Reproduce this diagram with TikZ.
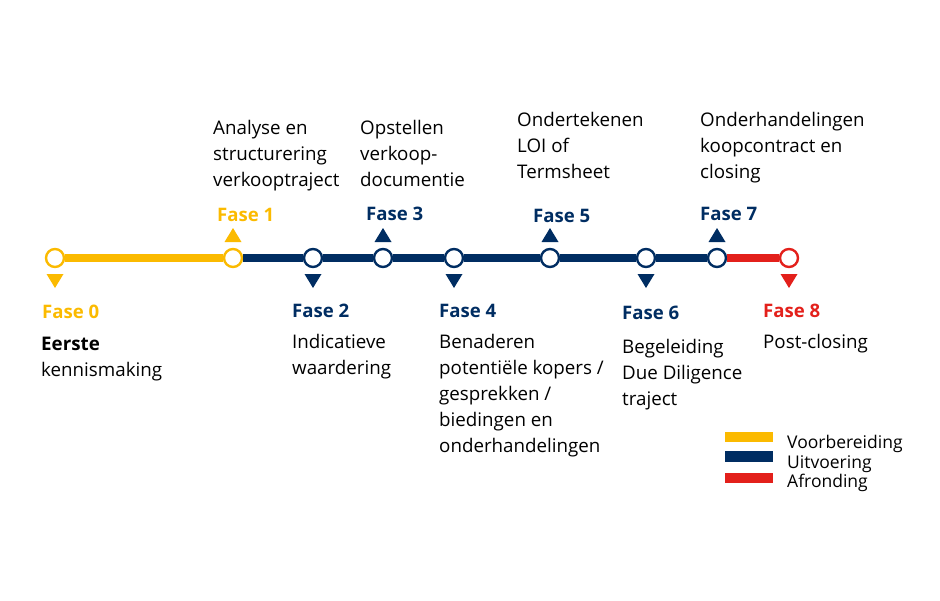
\documentclass[tikz,border=0pt]{standalone}
\usepackage{fontspec}
\setmainfont{Open Sans}
\usetikzlibrary{calc}
\definecolor{cyel}{HTML}{FBBA00}
\definecolor{cnavy}{HTML}{002D62}
\definecolor{cred}{HTML}{E3201B}
\begin{document}
\begin{tikzpicture}[x=1pt,y=-1pt,
  dot/.style={circle,draw=#1,line width=2.4pt,fill=white,minimum size=18pt,inner sep=0pt},
  seg/.style={draw=#1,line width=8pt},
  fase/.style={anchor=base west,inner sep=0pt,font=\fontsize{18.6}{26}\selectfont\bfseries,text=#1},
  desc/.style={anchor=base west,inner sep=0pt,align=left,font=\fontsize{18.75}{26}\selectfont,text=black},
  legtext/.style={anchor=base west,inner sep=0pt,font=\fontsize{17.5}{20}\selectfont,text=black},
  ]
\useasboundingbox (0,0) rectangle (940,600);

% timeline dots
\node[dot=cyel]  (c0) at (55,258) {};
\node[dot=cyel]  (c1) at (233,258) {};
\node[dot=cnavy] (c2) at (313,258) {};
\node[dot=cnavy] (c3) at (383,258) {};
\node[dot=cnavy] (c4) at (454,258) {};
\node[dot=cnavy] (c5) at (550,258) {};
\node[dot=cnavy] (c6) at (646,258) {};
\node[dot=cnavy] (c7) at (717,258) {};
\node[dot=cred]  (c8) at (789,258) {};

% segments
\draw[seg=cyel]  (c0) -- (c1);
\draw[seg=cnavy] (c1) -- (c2);
\draw[seg=cnavy] (c2) -- (c3);
\draw[seg=cnavy] (c3) -- (c4);
\draw[seg=cnavy] (c4) -- (c5);
\draw[seg=cnavy] (c5) -- (c6);
\draw[seg=cnavy] (c6) -- (c7);
\draw[seg=cred]  (c7) -- (c8);

% triangles down
\foreach \c/\col in {c0/cyel,c2/cnavy,c4/cnavy,c6/cnavy,c8/cred}{
  \fill[\col] ($(\c)+(-8.5,16)$) -- ($(\c)+(8.5,16)$) -- ($(\c)+(0,30)$) -- cycle;
}
% triangles up
\foreach \c/\col in {c1/cyel,c3/cnavy,c5/cnavy,c7/cnavy}{
  \fill[\col] ($(\c)+(-8.5,-16)$) -- ($(\c)+(8.5,-16)$) -- ($(\c)+(0,-30)$) -- cycle;
}

% phase labels
\node[fase=cyel]  (f0) at (42,318) {Fase 0};
\node[fase=cyel]  (f1) at (217,221) {Fase 1};
\node[fase=cnavy] (f2) at (292,317) {Fase 2};
\node[fase=cnavy] (f3) at (366,220) {Fase 3};
\node[fase=cnavy] (f4) at (439,317) {Fase 4};
\node[fase=cnavy] (f5) at (533,222) {Fase 5};
\node[fase=cnavy] (f6) at (622,319) {Fase 6};
\node[fase=cnavy] (f7) at (700,220) {Fase 7};
\node[fase=cred]  (f8) at (763,317) {Fase 8};

% descriptions (anchor = baseline of last line)
\node[desc] (d0) at (41,376.5) {\textbf{Eerste}\\kennismaking};
\node[desc] (d1) at (213,186) {Analyse en\\structurering\\verkooptraject};
\node[desc] (d2) at (292,374) {Indicatieve\\waardering};
\node[desc] (d3) at (360,186) {Opstellen\\verkoop-\\documentie};
\node[desc] (d4) at (439,452) {Benaderen\\potentiële kopers /\\gesprekken /\\biedingen en\\onderhandelingen};
\node[desc] (d5) at (517,178) {Ondertekenen\\LOI of\\Termsheet};
\node[desc] (d6) at (622,405) {Begeleiding\\Due Diligence\\traject};
\node[desc] (d7) at (700,178) {Onderhandelingen\\koopcontract en\\closing};
\node[desc] (d8) at (763,348) {Post-closing};

% legend
\fill[cyel]  (725,432) rectangle (773,442);
\fill[cnavy] (725,451) rectangle (773,462);
\fill[cred]  (725,473) rectangle (773,483);
\node[legtext] (l1) at (787,448) {Voorbereiding};
\node[legtext] (l2) at (787,468) {Uitvoering};
\node[legtext] (l3) at (787,487) {Afronding};
\end{tikzpicture}
\end{document}
